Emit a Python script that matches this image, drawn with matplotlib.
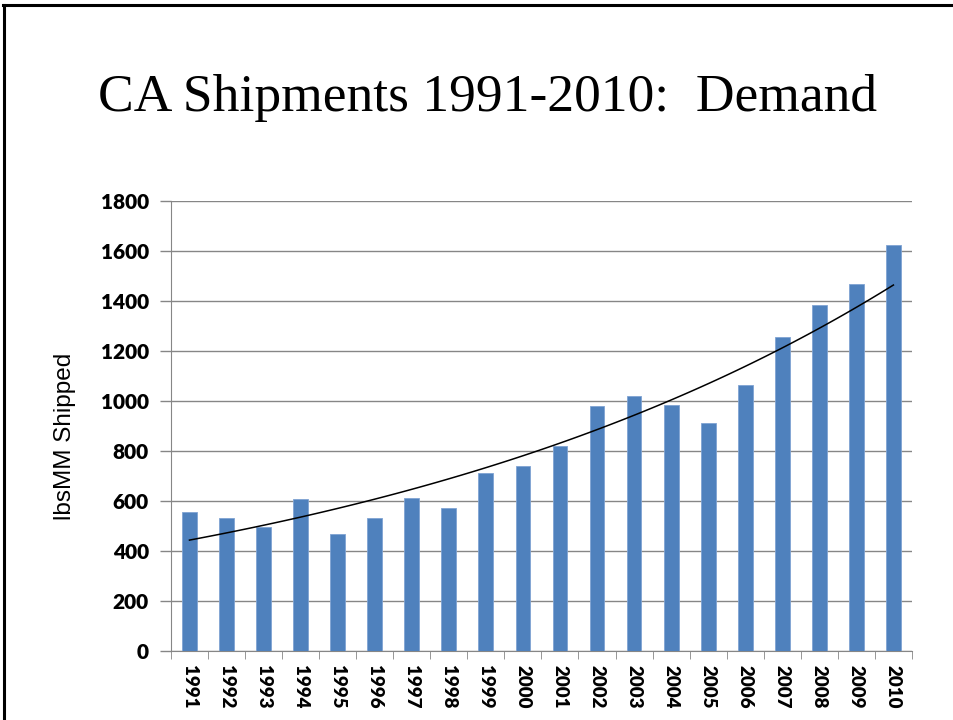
import numpy as np
import matplotlib.pyplot as plt
from matplotlib.lines import Line2D

years = [str(y) for y in range(1991, 2011)]
shipped = [556, 534, 497, 607, 467, 532, 612, 572, 713, 740,
           822, 980, 1021, 983, 912, 1063, 1257, 1385, 1469, 1623]

bar_color = "#4F81BD"
grid_color = "#868686"

fig = plt.figure(figsize=(9.54, 7.2), dpi=100)
ax = fig.add_axes([0.1792, 0.0958, 0.7767, 0.625])

x = np.arange(len(years))
ax.bar(x, shipped, width=0.4, color=bar_color, edgecolor="#7FA3D3", linewidth=0.6, zorder=3)

# exponential trend line (like Excel's)
b, a = np.polyfit(x, np.log(shipped), 1)
xt = np.linspace(0, len(years) - 1, 100)
ax.plot(xt, np.exp(a + b * xt), color="black", linewidth=1.1, zorder=4)

ax.set_xlim(-0.5, len(years) - 0.5)
ax.set_ylim(0, 1800)
ax.set_yticks(range(0, 1801, 200))
ax.yaxis.grid(True, color=grid_color, linewidth=1.0, zorder=0)
ax.set_xticks(x)
ax.set_xticklabels(years, rotation=270, fontsize=13.5, fontweight="heavy", family="Lato")
ax.set_xticks(np.arange(-0.5, len(years), 1), minor=True)
ax.tick_params(axis="x", which="major", length=0, pad=10)
ax.tick_params(axis="x", which="minor", length=6, color=grid_color, direction="out")
ax.tick_params(axis="y", length=8, color=grid_color, width=1.0, pad=8)
for lab in ax.get_yticklabels():
    lab.set_fontsize(15)
    lab.set_fontweight("heavy")
    lab.set_family("Lato")

for s in ["top", "right"]:
    ax.spines[s].set_visible(False)
ax.spines["left"].set_color(grid_color)
ax.spines["bottom"].set_color(grid_color)

ax.set_ylabel("lbsMM Shipped", fontsize=17.5, family="Liberation Sans")
ax.yaxis.set_label_coords(-0.128, 0.476)

fig.text(0.511, 0.864, "CA Shipments 1991-2010:  Demand", ha="center", va="center",
         fontsize=38.5, family="Liberation Serif")

# slide border
fig.add_artist(Line2D([3 / 954, 1], [1 - 5 / 720, 1 - 5 / 720], color="black", linewidth=2.2))
fig.add_artist(Line2D([4 / 954, 4 / 954], [0, 1 - 5 / 720], color="black", linewidth=2.2))

fig.savefig("out.png", dpi=100)
